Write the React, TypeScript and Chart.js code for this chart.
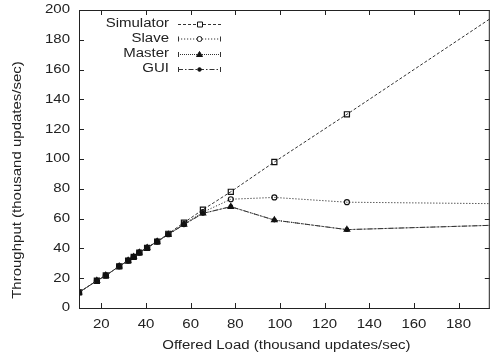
import React, { useEffect, useRef } from "react";
import { Chart, registerables } from "chart.js";

Chart.register(...registerables);

const loads = [10, 18, 22, 28, 32, 34.5, 37, 40.5, 45, 50, 57, 65.5, 78, 97.5, 130, 197];
const simulator = [10.5, 18.3, 21.8, 28, 31.8, 34.3, 37.2, 40.4, 44.6, 49.8, 57.3, 66, 78, 98, 130, 197];
const slave = [10.5, 18.3, 21.8, 28, 31.8, 34.3, 37.2, 40.4, 44.6, 49.5, 56.3, 64.3, 73, 74.2, 71, 70];
const master = [10.5, 18.3, 21.8, 28, 31.8, 34.3, 37.2, 40.4, 44.6, 49.3, 56, 63.5, 68, 59, 52.6, 55.6];
const gui = [10.5, 18.3, 21.8, 28, 31.8, 34.3, 37.2, 40.4, 44.6, 49.3, 56, 63.5, 68, 59, 52.6, 55.6];
const xTicks = [20, 40, 60, 80, 100, 120, 140, 160, 180];
const yTicks = [0, 20, 40, 60, 80, 100, 120, 140, 160, 180, 200];
const seriesNames = ["Simulator", "Slave", "Master", "GUI"];
const xTitle = "Offered Load (thousand updates/sec)";
const yTitle = "Throughput (thousand updates/sec)";

const FONT = "'Liberation Sans', Arial, Helvetica, sans-serif";
const FSIZE = 12.5;
const SX = 1.2;
const INK = "#222";
const LINE = "#333";

function pts(ys: number[]) {
  return loads.map((x, i) => ({ x, y: ys[i] }));
}

const styles = [
  { dash: [3, 2], pointStyle: "rect", radius: 3.6, fill: "rgba(0,0,0,0)" },
  { dash: [1.2, 1.8], pointStyle: "circle", radius: 2.5, fill: "rgba(0,0,0,0)" },
  { dash: [1, 1], pointStyle: "triangle", radius: 3.2, fill: "#111" },
  { dash: [5, 2, 1.5, 2], pointStyle: "circle", radius: 1.8, fill: "#111" },
];

const stretchPlugin = {
  id: "stretch",
  beforeInit(chart: any) {
    const ctx = chart.ctx;
    const orig = ctx.fillText.bind(ctx);
    ctx.fillText = (text: string, x: number, y: number) => {
      ctx.save();
      ctx.translate(x, y);
      ctx.scale(SX, 1);
      orig(text, 0, 0);
      ctx.restore();
    };
  },
};

const framePlugin = {
  id: "frame",
  afterDatasetsDraw(chart: any) {
    const { ctx, chartArea: a, scales } = chart;
    ctx.save();
    ctx.strokeStyle = INK;
    ctx.lineWidth = 1;
    ctx.setLineDash([]);
    ctx.strokeRect(a.left + 0.5, a.top + 0.5, a.right - a.left - 1, a.bottom - a.top);
    const L = 5;
    ctx.beginPath();
    for (const t of xTicks) {
      const x = Math.round(scales.x.getPixelForValue(t)) + 0.5;
      ctx.moveTo(x, a.bottom);
      ctx.lineTo(x, a.bottom - L);
      ctx.moveTo(x, a.top);
      ctx.lineTo(x, a.top + L);
    }
    for (const t of yTicks) {
      const y = Math.round(scales.y.getPixelForValue(t)) + 0.5;
      ctx.moveTo(a.left, y);
      ctx.lineTo(a.left + L, y);
      ctx.moveTo(a.right, y);
      ctx.lineTo(a.right - L, y);
    }
    ctx.stroke();

    ctx.font = `${FSIZE}px ${FONT}`;
    ctx.fillStyle = INK;

    // axis titles
    ctx.textAlign = "center";
    ctx.textBaseline = "middle";
    ctx.fillText(xTitle, (a.left + a.right) / 2 + 2, 346);
    ctx.save();
    ctx.translate(18, 180);
    ctx.rotate(-Math.PI / 2);
    ctx.fillText(yTitle, 0, 0);
    ctx.restore();

    // legend
    const textRight = 169;
    const lx0 = 178;
    const lx1 = 221;
    const ys = [24, 38.5, 54, 69];
    ctx.textAlign = "right";
    seriesNames.forEach((name, i) => {
      const y = ys[i];
      ctx.fillStyle = INK;
      ctx.fillText(name, textRight, y);
      const s = styles[i];
      ctx.strokeStyle = LINE;
      ctx.lineWidth = 1;
      ctx.setLineDash(s.dash);
      ctx.beginPath();
      ctx.moveTo(lx0, y + 0.5);
      ctx.lineTo(lx1, y + 0.5);
      ctx.stroke();
      ctx.setLineDash([]);
      if (i > 0) {
        ctx.beginPath();
        ctx.moveTo(lx0 + 0.5, y - 2);
        ctx.lineTo(lx0 + 0.5, y + 3);
        ctx.moveTo(lx1 - 0.5, y - 2);
        ctx.lineTo(lx1 - 0.5, y + 3);
        ctx.stroke();
      }
      const cx = (lx0 + lx1) / 2;
      ctx.fillStyle = s.fill;
      ctx.strokeStyle = "#111";
      ctx.beginPath();
      if (s.pointStyle === "rect") {
        ctx.rect(cx - 2, y - 2, 5, 5);
        ctx.fillStyle = "#fff";
      } else if (s.pointStyle === "triangle") {
        ctx.moveTo(cx, y - 2.5);
        ctx.lineTo(cx + 3, y + 2.5);
        ctx.lineTo(cx - 3, y + 2.5);
        ctx.closePath();
      } else {
        ctx.arc(cx, y + 0.5, s.radius, 0, Math.PI * 2);
        if (i === 1) ctx.fillStyle = "#fff";
      }
      ctx.fill();
      ctx.stroke();
    });
    ctx.restore();
  },
};

export default function App() {
  const ref = useRef<HTMLCanvasElement | null>(null);
  useEffect(() => {
    document.body.style.margin = "0";
    const all = [simulator, slave, master, gui];
    const chart = new Chart(ref.current as HTMLCanvasElement, {
      type: "line",
      data: {
        datasets: all.map((ys, i) => ({
          label: seriesNames[i],
          data: pts(ys),
          order: 4 - i,
          clip: 0,
          borderColor: LINE,
          borderWidth: 1,
          borderDash: styles[i].dash,
          pointStyle: styles[i].pointStyle as any,
          pointRadius: styles[i].radius,
          pointBackgroundColor: styles[i].fill,
          pointBorderColor: "#111",
          pointBorderWidth: 1.2,
          tension: 0,
          fill: false,
        })),
      },
      options: {
        animation: false,
        responsive: false,
        maintainAspectRatio: false,
        layout: { padding: { top: 10, right: 1, left: 0, bottom: 0 } },
        plugins: { legend: { display: false }, tooltip: { enabled: false } },
        scales: {
          x: {
            type: "linear",
            min: 10,
            max: 194,
            afterBuildTicks: (s: any) => {
              s.ticks = xTicks.map((v) => ({ value: v }));
            },
            afterFit: (s: any) => {
              s.height = 52;
              s.paddingLeft = 0;
              s.paddingRight = 0;
            },
            grid: { display: false, drawTicks: false },
            border: { display: false },
            ticks: { color: INK, font: { family: FONT, size: FSIZE }, padding: 9, maxRotation: 0, autoSkip: false },
            title: { display: false, text: xTitle },
          },
          y: {
            type: "linear",
            min: 0,
            max: 200,
            afterBuildTicks: (s: any) => {
              s.ticks = yTicks.map((v) => ({ value: v }));
            },
            afterFit: (s: any) => {
              s.width = 79;
              s.paddingTop = 0;
              s.paddingBottom = 0;
            },
            grid: { display: false, drawTicks: false },
            border: { display: false },
            ticks: { color: INK, font: { family: FONT, size: FSIZE }, padding: 9, autoSkip: false },
            title: { display: false, text: yTitle },
          },
        },
      },
      plugins: [stretchPlugin, framePlugin],
    });
    return () => chart.destroy();
  }, []);
  return (
    <div style={{ position: "absolute", left: 0, top: 0, width: 495, height: 360 }}>
      <canvas ref={ref} width={495} height={360} style={{ width: 495, height: 360 }} />
    </div>
  );
}
